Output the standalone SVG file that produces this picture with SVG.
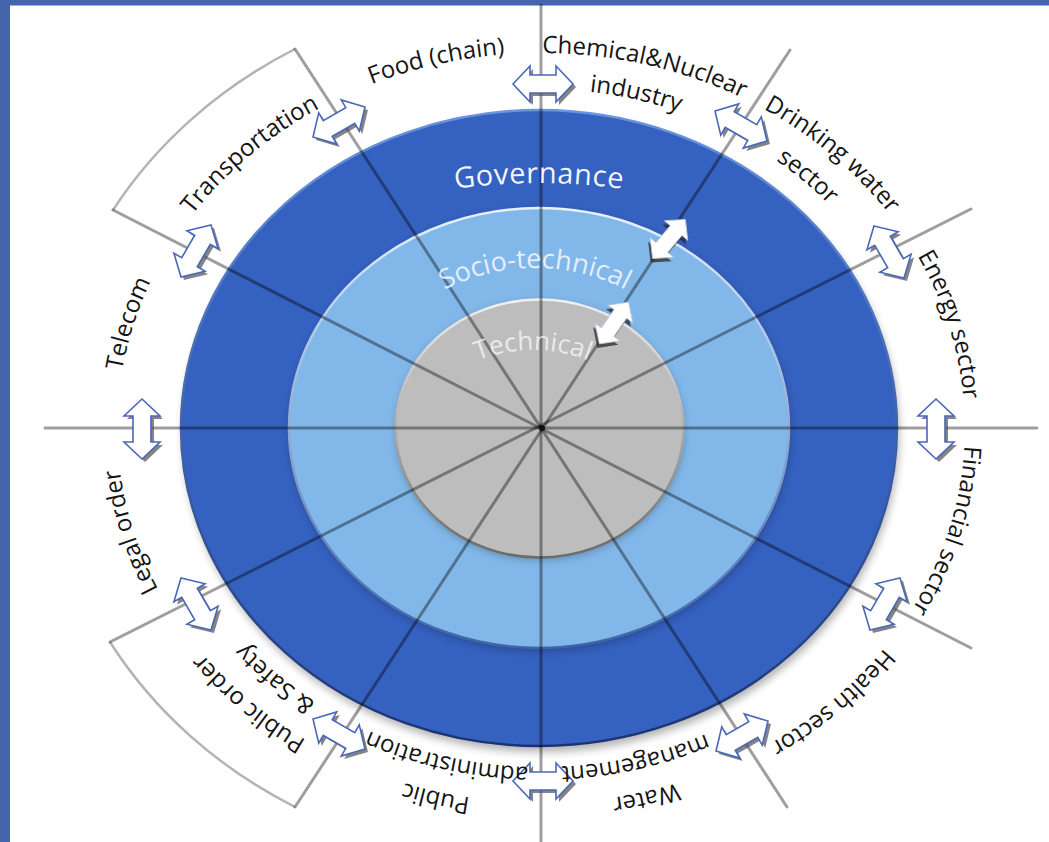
<svg xmlns="http://www.w3.org/2000/svg" width="1049" height="842" viewBox="0 0 1049 842">
<defs>
<style>
.lbl{font-family:"Open Sans","Liberation Sans",sans-serif;font-size:24px;fill:#151515;}
.band{font-family:"Open Sans","Liberation Sans",sans-serif;fill:#fff;}
.conn{stroke:#000;stroke-opacity:.38;stroke-width:3;fill:none;stroke-linecap:round}
.bracket{fill:none;stroke:#b4b4b4;stroke-width:2.5}
.ash{fill:#505050;fill-opacity:.7}
.afg{fill:#fff;stroke:#4a68b8;stroke-width:1.6;stroke-linejoin:miter}
.ish{fill:#2a2a2a;fill-opacity:.75}
.ifg{fill:#fff;stroke:#b8c4d8;stroke-width:1}
</style>
<filter id="soft" x="-10%" y="-10%" width="120%" height="120%"><feGaussianBlur stdDeviation="4"/></filter>
<linearGradient id="rimOuter" x1="0" y1="0" x2="0" y2="1"><stop offset="0" stop-color="#6a94e0"/><stop offset="1" stop-color="#1a3370"/></linearGradient>
<linearGradient id="rimLight" x1="0" y1="0" x2="0" y2="1"><stop offset="0" stop-color="#e6f2ff"/><stop offset="1" stop-color="#3c64a8"/></linearGradient>
<linearGradient id="rimGray" x1="0" y1="0" x2="0" y2="1"><stop offset="0" stop-color="#f0f0f0"/><stop offset="1" stop-color="#6a6a6a"/></linearGradient>
<polygon id="dbl" points="-30,0 -13,-18 -13,-9 13,-9 13,-18 30,0 13,18 13,9 -13,9 -13,18"/>
<path id="pFood" d="M174,240.5 A423.75,375 0 0 1 752.9,103.2"/>
<path id="pChem" d="M329.1,103.2 A423.75,375 0 0 1 908,240.5"/>
<path id="pDrink" d="M541,53 A423.75,375 0 0 1 964.75,428"/>
<path id="pEnergy" d="M752.9,103.2 A423.75,375 0 0 1 908,615.5"/>
<path id="pFin" d="M908,240.5 A423.75,375 0 0 1 752.9,752.8"/>
<path id="pHealth" d="M964.75,428 A423.75,375 0 0 1 541,803"/>
<path id="pWater" d="M908,615.5 A423.75,375 0 0 1 329.1,752.8"/>
<path id="pPublic" d="M752.9,752.8 A423.75,375 0 0 1 174,615.5"/>
<path id="pPO" d="M541,803 A423.75,375 0 0 1 117.25,428"/>
<path id="pLegal" d="M329.1,752.8 A423.75,375 0 0 1 174,240.5"/>
<path id="pTele" d="M174,615.5 A423.75,375 0 0 1 329.1,103.2"/>
<path id="pTrans" d="M117.25,428 A423.75,375 0 0 1 541,53"/>
<path id="iChem" d="M349.5,134.4 A383.1,339 0 0 1 872.8,258.5"/>
<path id="iDrink" d="M541,89 A383.1,339 0 0 1 924.1,428"/>
<path id="iWater" d="M872.8,597.5 A383.1,339 0 0 1 349.5,721.6"/>
<path id="iPublic" d="M732.6,721.6 A383.1,339 0 0 1 209.2,597.5"/>
<path id="iPO" d="M541,767 A383.1,339 0 0 1 157.9,428"/>
<path id="pGov" d="M429,193.2 A600,600 0 0 1 649,193.2"/>
<path id="pSocio" d="M380.8,347 A178,158 0 0 1 689.2,347"/>
<path id="pTech" d="M429.1,396.5 A120,93 0 0 1 636.9,396.5"/>
</defs>

<rect width="1049" height="842" fill="#fff"/>
<rect x="0" y="0" width="10" height="842" fill="#4464ac"/>
<rect x="0" y="0" width="1049" height="5.5" fill="#4464ac"/>

<g id="brackets">
<path class="bracket" d="M295,49 A494,437 0 0 0 113,210"/>
<path class="bracket" d="M110,642 A494,437 0 0 0 295,807"/>
</g>

<g id="rings">
<ellipse cx="541" cy="434" rx="358" ry="318" fill="#000" opacity=".3" filter="url(#soft)"/>
<ellipse id="governance-ring" cx="539" cy="428" rx="358" ry="318" fill="#3561c0" stroke="url(#rimOuter)" stroke-width="2.5"/>
<ellipse cx="540" cy="431" rx="250" ry="220" fill="#000" opacity=".25" filter="url(#soft)"/>
<ellipse id="socio-ring" cx="539" cy="428" rx="250" ry="220" fill="#82b8e9" stroke="url(#rimLight)" stroke-width="2.5"/>
<ellipse cx="540" cy="431" rx="144" ry="129" fill="#000" opacity=".25" filter="url(#soft)"/>
<ellipse id="technical-core" cx="539.5" cy="428.5" rx="144" ry="129" fill="#bdbdbd" stroke="url(#rimGray)" stroke-width="2.5"/>
</g>

<g id="connectors">
<line class="conn" x1="541" y1="5" x2="541" y2="842"/>
<line class="conn" x1="45" y1="428" x2="1037" y2="428"/>
<line class="conn" x1="295" y1="49" x2="787" y2="807"/>
<line class="conn" x1="790" y1="50" x2="295" y2="807"/>
<line class="conn" x1="113" y1="210" x2="971" y2="648"/>
<line class="conn" x1="971" y1="209" x2="110" y2="642"/>
<circle cx="542" cy="428" r="3" fill="#111"/>
</g>

<g id="layer-labels">
<text class="band" font-size="29" letter-spacing="0.5" fill-opacity=".95"><textPath href="#pGov" startOffset="50%" text-anchor="middle">Governance</textPath></text>
<text class="band" font-size="27" fill-opacity=".78"><textPath href="#pSocio" startOffset="50%" text-anchor="middle">Socio-technical</textPath></text>
<text class="band" font-size="26" fill-opacity=".7"><textPath href="#pTech" startOffset="50%" text-anchor="middle">Technical</textPath></text>
</g>

<g id="arrows">
<g id="arrow-top"><use href="#dbl" class="ash" transform="translate(546,87) rotate(0)"/><use href="#dbl" class="afg" transform="translate(543,84) rotate(0)"/></g>
<g id="arrow-ur"><use href="#dbl" class="ash" transform="translate(744,129) rotate(30)"/><use href="#dbl" class="afg" transform="translate(741,126) rotate(30)"/></g>
<g id="arrow-ru"><use href="#dbl" class="ash" transform="translate(892,255) rotate(60)"/><use href="#dbl" class="afg" transform="translate(889,252) rotate(60)"/></g>
<g id="arrow-r"><use href="#dbl" class="ash" transform="translate(939,432) rotate(90)"/><use href="#dbl" class="afg" transform="translate(936,429) rotate(90)"/></g>
<g id="arrow-rl"><use href="#dbl" class="ash" transform="translate(888,607) rotate(120)"/><use href="#dbl" class="afg" transform="translate(885,604) rotate(120)"/></g>
<g id="arrow-lr"><use href="#dbl" class="ash" transform="translate(745,739) rotate(150)"/><use href="#dbl" class="afg" transform="translate(742,736) rotate(150)"/></g>
<g id="arrow-b"><use href="#dbl" class="ash" transform="translate(546,784) rotate(180)"/><use href="#dbl" class="afg" transform="translate(543,781) rotate(180)"/></g>
<g id="arrow-ll"><use href="#dbl" class="ash" transform="translate(342,737) rotate(210)"/><use href="#dbl" class="afg" transform="translate(339,734) rotate(210)"/></g>
<g id="arrow-lwl"><use href="#dbl" class="ash" transform="translate(199,607) rotate(240)"/><use href="#dbl" class="afg" transform="translate(196,604) rotate(240)"/></g>
<g id="arrow-l"><use href="#dbl" class="ash" transform="translate(145,432) rotate(270)"/><use href="#dbl" class="afg" transform="translate(142,429) rotate(270)"/></g>
<g id="arrow-lu"><use href="#dbl" class="ash" transform="translate(199,254) rotate(300)"/><use href="#dbl" class="afg" transform="translate(196,251) rotate(300)"/></g>
<g id="arrow-ul"><use href="#dbl" class="ash" transform="translate(342,125) rotate(330)"/><use href="#dbl" class="afg" transform="translate(339,122) rotate(330)"/></g>
<g id="arrow-inner1"><use href="#dbl" class="ish" transform="translate(667,243) rotate(-50) scale(.85)"/><use href="#dbl" class="ifg" transform="translate(669,239) rotate(-50) scale(.85)"/></g>
<g id="arrow-inner2"><use href="#dbl" class="ish" transform="translate(612,327) rotate(-55) scale(.85)"/><use href="#dbl" class="ifg" transform="translate(614,323) rotate(-55) scale(.85)"/></g>
</g>

<g id="node-food"><text class="lbl"><textPath href="#pFood" startOffset="50%" text-anchor="middle">Food (chain)</textPath></text></g>
<g id="node-chemical"><text class="lbl"><textPath href="#pChem" startOffset="50%" text-anchor="middle">Chemical&amp;Nuclear</textPath></text><text class="lbl"><textPath href="#iChem" startOffset="50%" text-anchor="middle">industry</textPath></text></g>
<g id="node-drinking"><text class="lbl"><textPath href="#pDrink" startOffset="50%" text-anchor="middle">Drinking water</textPath></text><text class="lbl"><textPath href="#iDrink" startOffset="50%" text-anchor="middle">sector</textPath></text></g>
<g id="node-energy"><text class="lbl"><textPath href="#pEnergy" startOffset="50%" text-anchor="middle">Energy sector</textPath></text></g>
<g id="node-financial"><text class="lbl"><textPath href="#pFin" startOffset="50%" text-anchor="middle">Financial sector</textPath></text></g>
<g id="node-health"><text class="lbl"><textPath href="#pHealth" startOffset="50%" text-anchor="middle">Health sector</textPath></text></g>
<g id="node-water"><text class="lbl"><textPath href="#pWater" startOffset="50%" text-anchor="middle">Water</textPath></text><text class="lbl"><textPath href="#iWater" startOffset="50%" text-anchor="middle">management</textPath></text></g>
<g id="node-public-admin"><text class="lbl"><textPath href="#pPublic" startOffset="50%" text-anchor="middle">Public</textPath></text><text class="lbl"><textPath href="#iPublic" startOffset="50%" text-anchor="middle">administration</textPath></text></g>
<g id="node-public-order"><text class="lbl"><textPath href="#pPO" startOffset="50%" text-anchor="middle">Public order</textPath></text><text class="lbl"><textPath href="#iPO" startOffset="50%" text-anchor="middle">&amp; Safety</textPath></text></g>
<g id="node-legal"><text class="lbl"><textPath href="#pLegal" startOffset="50%" text-anchor="middle">Legal order</textPath></text></g>
<g id="node-telecom"><text class="lbl"><textPath href="#pTele" startOffset="50%" text-anchor="middle">Telecom</textPath></text></g>
<g id="node-transport"><text class="lbl"><textPath href="#pTrans" startOffset="50%" text-anchor="middle">Transportation</textPath></text></g>
</svg>
